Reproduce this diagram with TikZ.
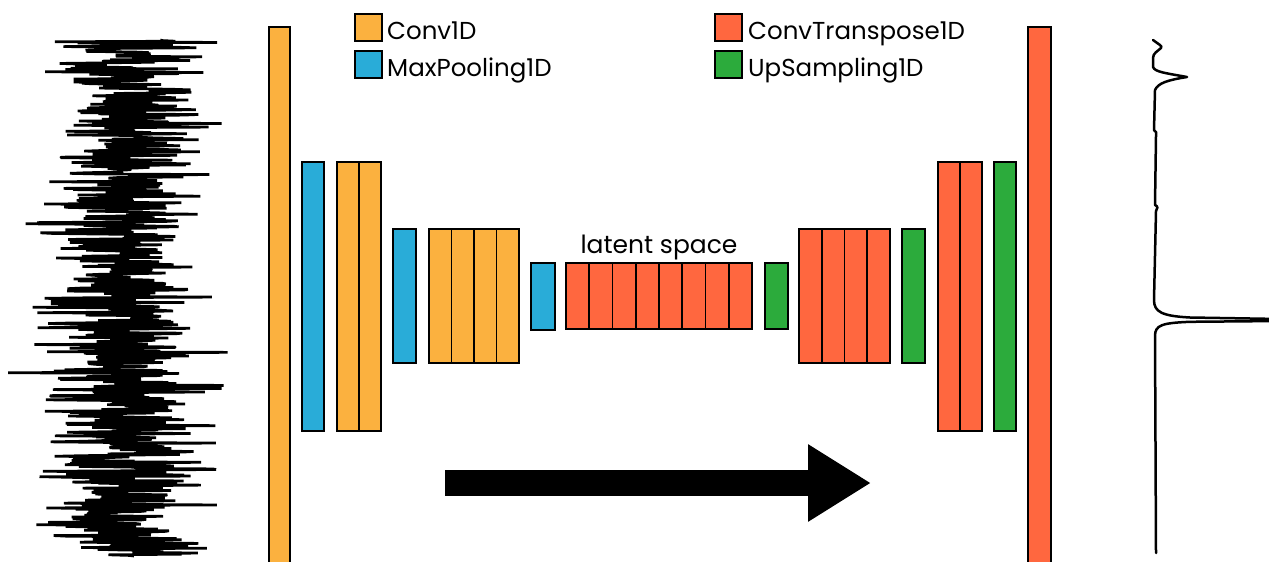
\documentclass[tikz,border=0pt]{standalone}
\usepackage{fontspec}
\setmainfont{Poppins}
\usetikzlibrary{arrows.meta}

\definecolor{convc}{HTML}{FBB13F}
\definecolor{poolc}{HTML}{29ACD8}
\definecolor{transc}{HTML}{FF673F}
\definecolor{upc}{HTML}{2CAB3C}

\tikzset{
  cell/.style={draw=black, line width=1.9pt, inner sep=0pt, outer sep=0pt,
    anchor=north west},
  conv/.style={cell, fill=convc},
  pool/.style={cell, fill=poolc},
  trans/.style={cell, fill=transc},
  upsm/.style={cell, fill=upc},
  keybox/.style={cell, minimum width=27pt, minimum height=27pt},
  keytext/.style={anchor=base west, inner sep=0pt, font=\fontsize{24.5}{30}\selectfont},
  signal/.style={line width=2.5pt, line join=round, line cap=round},
}

\begin{document}
\begin{tikzpicture}[x=1pt, y=-1pt]
\clip (0,0) rectangle (1269,562);
\fill[white] (0,0) rectangle (1269,562);

% noisy input trace: gaussian-like noise with a few long spikes
\pgfmathsetseed{4211}
\draw[line width=2.7pt, line join=bevel]
  plot[variable=\t, samples=860, domain=40:556]
  ({122+35*(rand+rand+rand)*(1+0.9*rnd^8)}, \t);

% encoder
\node[conv, minimum width=21pt, minimum height=560pt] (in) at (269,27) {};
\node[pool, minimum width=22pt, minimum height=269pt] (p1) at (302,162) {};
\foreach \i in {0,1}
  \node[conv, minimum width=22pt, minimum height=269pt] (c1\i) at (337+22*\i,162) {};
\node[pool, minimum width=23pt, minimum height=134pt] (p2) at (393,229) {};
\foreach \i in {0,...,3}
  \node[conv, minimum width=22.5pt, minimum height=134pt] (c2\i) at (429+22.5*\i,229) {};
\node[pool, minimum width=24pt, minimum height=67pt] (p3) at (531,263) {};

% bottleneck
\foreach \i in {0,...,7}
  \node[trans, minimum width=23.25pt, minimum height=66pt] (z\i) at (566+23.25*\i,263) {};
\node[anchor=base, inner sep=0pt, font=\fontsize{25}{30}\selectfont] (zlab) at (659,253) {latent space};

% decoder
\node[upsm, minimum width=23pt, minimum height=66pt] (u1) at (765,263) {};
\foreach \i in {0,...,3}
  \node[trans, minimum width=22.75pt, minimum height=134pt] (t1\i) at (799+22.75*\i,229) {};
\node[upsm, minimum width=23pt, minimum height=134pt] (u2) at (902,229) {};
\foreach \i in {0,1}
  \node[trans, minimum width=22pt, minimum height=269pt] (t2\i) at (938+22*\i,162) {};
\node[upsm, minimum width=22pt, minimum height=269pt] (u3) at (994,162) {};
\node[trans, minimum width=23pt, minimum height=560pt] (out) at (1028,27) {};

% legend
\node[keybox, fill=convc] (kconv) at (355,14) {};
\node[keytext] (tconv) at (387,39) {Conv1D};
\node[keybox, fill=poolc] (kpool) at (355,51) {};
\node[keytext] (tpool) at (387,76) {MaxPooling1D};
\node[keybox, fill=transc] (ktrans) at (715,14) {};
\node[keytext] (ttrans) at (748,39) {ConvTranspose1D};
\node[keybox, fill=upc] (kup) at (715,51) {};
\node[keytext] (tup) at (748,76) {UpSampling1D};

% direction arrow
\coordinate (atail) at (445,483);
\coordinate (ahead) at (871,483);
\draw[line width=26pt, -{Triangle[length=63pt,width=73pt]}] (atail) -- (ahead);

% denoised output trace
\draw[signal]
  (1153,40) .. controls (1158,44) and (1163,46) .. (1161,48)
  .. controls (1158,51) and (1153,53) .. (1153,58)
  -- (1153,67) .. controls (1155,72) and (1165,73) .. (1187,77)
  .. controls (1168,80) and (1158,83) .. (1155,90)
  -- (1154,130) .. controls (1156,131) and (1157,133) .. (1156,136)
  -- (1155,205) .. controls (1158,206) and (1158,209) .. (1156,211)
  -- (1154,300)
  .. controls (1154,312) and (1162,316) .. (1190,317.5) -- (1280,319);
\draw[signal]
  (1280,321) -- (1190,321.8)
  .. controls (1162,323) and (1155,325) .. (1155,336)
  -- (1156,553);
\end{tikzpicture}
\end{document}
